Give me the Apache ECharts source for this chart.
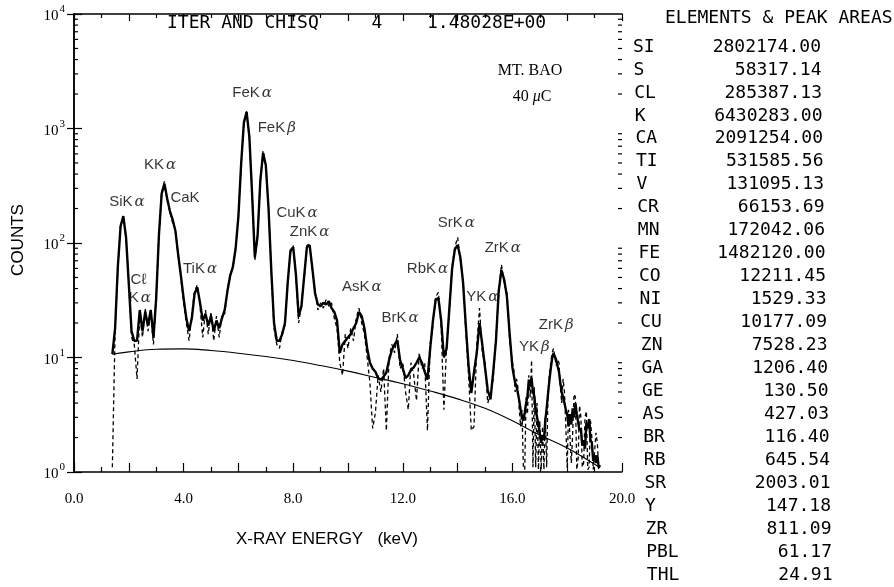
<!DOCTYPE html>
<html><head><meta charset="utf-8">
<script src="https://cdn.jsdelivr.net/npm/echarts/dist/echarts.min.js"></script>
<style>html,body{margin:0;padding:0;background:#fff}#c{width:894px;height:587px}</style>
</head><body><div id="c"></div>
<script>
// ---- data ----
const energy = [1.4,1.5,1.6,1.7,1.8,1.9,2.0,2.1,2.2,2.3,2.4,2.5,2.6,2.7,2.8,2.9,3.0,3.1,3.2,3.3,3.4,3.5,3.6,3.7,3.8,3.9,4.0,4.1,4.2,4.3,4.4,4.5,4.6,4.7,4.8,4.9,5.0,5.1,5.2,5.3,5.4,5.5,5.6,5.7,5.8,5.9,6.0,6.1,6.2,6.3,6.4,6.5,6.6,6.7,6.8,6.9,7.0,7.1,7.2,7.3,7.4,7.5,7.6,7.7,7.8,7.9,8.0,8.1,8.2,8.3,8.4,8.5,8.6,8.7,8.8,8.9,9.0,9.1,9.2,9.3,9.4,9.5,9.6,9.7,9.8,9.9,10.0,10.1,10.2,10.3,10.4,10.5,10.6,10.7,10.8,10.9,11.0,11.1,11.2,11.3,11.4,11.5,11.6,11.7,11.8,11.9,12.0,12.1,12.2,12.3,12.4,12.5,12.6,12.7,12.8,12.9,13.0,13.1,13.2,13.3,13.4,13.5,13.6,13.7,13.8,13.9,14.0,14.1,14.2,14.3,14.4,14.5,14.6,14.7,14.8,14.9,15.0,15.1,15.2,15.3,15.4,15.5,15.6,15.7,15.8,15.9,16.0,
 16.05,16.1,16.15,16.2,16.25,16.3,16.35,16.4,16.45,16.5,16.55,16.6,16.65,16.7,16.75,16.8,16.85,16.9,16.95,17.0,17.05,17.1,17.15,17.2,17.25,17.3,17.35,17.4,17.45,17.5,17.55,17.6,17.65,17.7,17.75,17.8,17.85,17.9,17.95,18.0,18.05,18.1,18.15,18.2,18.25,18.3,18.35,18.4,18.45,18.5,18.55,18.6,18.65,18.7,18.75,18.8,18.85,18.9,18.95,19.0,19.05,19.1,19.15,19.2];
const fitCounts = [
 10.7,18,62,140,172,112,44,17,14,14,
 26,17,25,19,26,15,33,118,270,330,
 245,190,160,128,80,52,33,22,17,22,
 36,41,30,21,24,19,23,17,21,18,
 22,26,38,52,62,90,170,490,1125,1390,
 850,268,75,115,350,610,480,200,58,20,
 14,14,16,20,45,86,92,53,23,28,
 51,92,96,60,36,29,28,30,29,31,
 27,25,21,11,13,14,15,16,18,20,
 25,23,18,12,9,8,7.5,6.6,6.4,6.8,
 7.4,9.5,11.6,13,14.2,9.5,8,6.6,7,7.8,
 8.2,9,10,9,7.5,6.4,12,21,32,33,
 21,10,12,27,60,88,96,75,45,19,
 8.5,4.9,7.5,11,20,13,8.2,5.2,4.3,7.5,
 14,38,58,48,34,16,8.2,
 7.0,6,5.6,4.9,4.2,3.5,3.0,2.8,3.3,4,
 4.6,6.4,5.6,6.6,5.0,4.6,3.5,3.6,2.6,2.6,
 1.8,2.1,1.9,2.8,3.6,4.8,6.3,8,9.8,10.9,
 10.2,9.5,8.4,7.5,6,5,4.5,4,3.5,3.2,
 2.5,3.2,2.6,3.6,3.0,4.0,3.2,3.3,2.3,2.4,
 1.7,1.9,1.6,2.7,2.4,2.9,1.9,1.8,1.25,1.4,
 1.2,1.4,1.1,1.15];
const dataCounts = [
 1.1,17,60,145,168,108,45,15,13,6.5,
 24,15,27,17,24,13,35,115,275,345,
 240,185,150,132,78,50,30,20,14,24,
 38,43,28,15,26,16,25,14,23,15,
 24,24,40,50,65,88,175,480,1140,1420,
 830,275,70,120,340,640,470,205,55,18,
 13,12,17,19,47,82,95,50,20,30,
 49,95,99,57,38,26,30,27,32,28,
 30,22,18,9,7,16,12,18,14,22,
 27,20,16,10,6,2.4,3.3,7,5,8,
 2.3,10,13,11,16,8,9,5,3.5,9,
 7,4.2,11,8,9,2.3,13,19,34,37,
 19,3.5,13,25,63,92,112,72,48,17,
 7,2.3,2.5,13,27,11,9,4,4.8,6.5,
 15,36,65,44,37,14,9,
 8,5,6.5,5.5,3.5,2.5,3.5,1.1,1.05,4.5,
 3.2,7,4.5,9.5,1.1,5.5,1.1,4,1.05,2.8,
 1.05,2.5,1.05,3,1.1,5,7,9,11,12,
 10,8.5,9.5,9,5.5,4,6.5,5,2.5,1.1,
 3.5,3.5,1.2,2.2,4.8,4.5,1.05,1.3,3.8,3,
 1.1,1.2,3.0,3.4,1.05,1.1,2.8,2,1.05,1.05,
 2.2,1.8,1.05,1.0];
const bgEnergy = [1.4,2,3,4,5,6,7,8,9,10,11,12,13,14,15,16,17,18,19,19.2];
const bgCounts = [10.7,11.2,11.8,11.9,11.5,10.9,10.2,9.4,8.5,7.6,6.7,5.9,5.1,4.35,3.6,2.8,2.1,1.62,1.17,1.1];

const peakLabelText  = ['SiK','KK','CaK','C\u2113','K','TiK','FeK','FeK','CuK','ZnK','AsK','BrK','RbK','SrK','YK','ZrK','YK','ZrK'];
const peakLabelGreek = ['\u03b1','\u03b1','','','\u03b1','\u03b1','\u03b1','\u03b2','\u03b1','\u03b1','\u03b1','\u03b1','\u03b1','\u03b1','\u03b1','\u03b1','\u03b2','\u03b2'];
const peakLabelX = [1.93,3.14,4.05,2.35,2.4,4.6,6.5,7.4,8.14,8.6,10.5,11.9,12.9,13.95,14.9,15.65,16.8,17.6];
const peakLabelY = [228,480,246,47.5,33,59,2030,1010,183,124,41,22,59,150,33.7,90,12.3,19.2];

const tableElements = ['SI','S','CL','K','CA','TI','V','CR','MN','FE','CO','NI','CU','ZN','GA','GE','AS','BR','RB','SR','Y','ZR','PBL','THL'];
const tablePeakAreas = ['2802174.00','58317.14','285387.13','6430283.00','2091254.00','531585.56','131095.13','66153.69','172042.06','1482120.00','12211.45','1529.33','10177.09','7528.23','1206.40','130.50','427.03','116.40','645.54','2003.01','147.18','811.09','61.17','24.91'];

const yMinorTicks = [2,3,4,5,6,7,8,9,20,30,40,50,60,70,80,90,200,300,400,500,600,700,800,900,2000,3000,4000,5000,6000,7000,8000,9000];

// ---- styling ----
const serif = "'Liberation Serif','DejaVu Serif',serif";
const sans = "'Liberation Sans','DejaVu Sans',sans-serif";
const mono = "'DejaVu Sans Mono','Liberation Mono',monospace";
const black = '#000';

const chart = echarts.init(document.getElementById('c'), null, {renderer:'canvas'});

const graphics = [];
function txt(x, y, text, opts) {
  graphics.push({type:'text', x:x, y:y, silent:true,
    style:Object.assign({text:text, fill:black, verticalAlign:'middle', align:'left'}, opts||{})});
}
const monoFont = {fontFamily:mono, fontSize:18};
txt(167, 23, 'ITER AND CHISQ', monoFont);
txt(377, 23, '4', Object.assign({align:'center'}, monoFont));
txt(427, 23, '1.48028E+00', monoFont);
txt(665, 18, 'ELEMENTS & PEAK AREAS', monoFont);
tableElements.forEach((el, i) => {
  const y = 47 + 22.95 * i;
  txt(633 + 0.6 * i, y, el, monoFont);
  txt(821 + 0.5 * i, y, tablePeakAreas[i], Object.assign({align:'right'}, monoFont));
});
txt(530, 71, 'MT. BAO', {fontFamily:serif, fontSize:16, align:'center'});
graphics.push({type:'text', x:532, y:97, silent:true, style:{
  text:'{a|40 }{m|\u03bc}{a|C}', align:'center', verticalAlign:'middle',
  rich:{a:{fontFamily:serif, fontSize:16, fill:black}, m:{fontFamily:serif, fontSize:16, fontStyle:'italic', fill:black}}}});
txt(327, 539, 'X-RAY ENERGY   (keV)', {fontFamily:sans, fontSize:17, align:'center'});
graphics.push({type:'text', x:18, y:240, rotation:Math.PI/2, silent:true,
  style:{text:'COUNTS', fontFamily:sans, fontSize:17, fill:black, align:'center', verticalAlign:'middle'}});

const axisLineStyle = {color:black, width:1.5};
const tickStyle = {color:black, width:1.2};

const option = {
  animation:false,
  backgroundColor:'#fff',
  grid:{left:74, right:272, top:14, bottom:115, containLabel:false, outerBoundsMode:'none'},
  xAxis:[
    {type:'value', min:0, max:20, interval:2, position:'bottom',
     axisLine:{show:true, lineStyle:axisLineStyle},
     axisTick:{show:true, inside:true, length:9, lineStyle:tickStyle},
     minorTick:{show:true, splitNumber:2, length:5, lineStyle:tickStyle},
     splitLine:{show:false}, minorSplitLine:{show:false},
     axisLabel:{show:true, margin:20, color:black, fontFamily:serif, fontSize:15,
       formatter:v => (Math.round(v) % 4 === 0 ? v.toFixed(1) : '')}},
    {type:'value', min:0, max:20, interval:2, position:'top',
     axisLine:{show:true, lineStyle:axisLineStyle},
     axisTick:{show:true, inside:true, length:7, lineStyle:tickStyle},
     minorTick:{show:true, splitNumber:2, length:4, lineStyle:tickStyle},
     splitLine:{show:false}, axisLabel:{show:false}}
  ],
  yAxis:[
    {type:'log', logBase:10, min:1, max:10000, position:'left',
     axisLine:{show:true, lineStyle:axisLineStyle},
     axisTick:{show:true, inside:true, length:8, lineStyle:tickStyle},
     splitLine:{show:false},
     axisLabel:{show:true, margin:9, color:black,
       formatter:v => '{b|10}{s|' + Math.round(Math.log10(v)) + '}',
       rich:{b:{fontFamily:serif, fontSize:15, color:black, verticalAlign:'bottom'},
             s:{fontFamily:serif, fontSize:11, color:black, verticalAlign:'bottom', padding:[0,0,9,1]}}}},
    {type:'log', logBase:10, min:1, max:10000, position:'right',
     axisLine:{show:true, lineStyle:axisLineStyle},
     axisTick:{show:true, inside:true, length:7, lineStyle:tickStyle},
     splitLine:{show:false}, axisLabel:{show:false}}
  ],
  graphic:graphics,
  series:[
    {type:'line', name:'background', data:bgEnergy.map((e,i)=>[e,bgCounts[i]]), smooth:0.4,
     symbol:'none', lineStyle:{color:black, width:1.1}, z:2, silent:true},
    {type:'line', name:'data', data:energy.map((e,i)=>[e,dataCounts[i]]),
     symbol:'none', lineStyle:{color:black, width:1.3, type:[4,3]}, z:3, silent:true},
    {type:'line', name:'fit', data:energy.map((e,i)=>[e,fitCounts[i]]),
     symbol:'none', lineStyle:{color:black, width:2.4}, z:4, silent:true},
    {type:'custom', name:'minorTicks', coordinateSystem:'cartesian2d', silent:true, clip:false,
     data:yMinorTicks.map(v=>[0,v]),
     renderItem:(params, api) => {
       const v = api.value(1);
       const p = api.coord([0, v]);
       const q = api.coord([20, v]);
       return {type:'group', children:[
         {type:'line', shape:{x1:p[0], y1:p[1], x2:p[0]+4, y2:p[1]}, style:{stroke:black, lineWidth:1.2}},
         {type:'line', shape:{x1:q[0], y1:q[1], x2:q[0]-4, y2:q[1]}, style:{stroke:black, lineWidth:1.2}}
       ]};
     }},
    {type:'scatter', name:'peakLabels', silent:true, symbolSize:1, itemStyle:{color:'rgba(0,0,0,0)'}, z:6,
     data:peakLabelX.map((x,i)=>({value:[x, peakLabelY[i]], name:peakLabelText[i]})),
     label:{show:true, position:'inside',
       formatter:p => '{t|' + peakLabelText[p.dataIndex] + '}' + (peakLabelGreek[p.dataIndex] ? '{g|' + peakLabelGreek[p.dataIndex] + '}' : ''),
       rich:{t:{fontFamily:sans, fontSize:15, color:black},
             g:{fontFamily:"'DejaVu Serif',serif", fontSize:15, fontStyle:'italic', color:black, padding:[0,0,0,2]}}}}
  ]
};
chart.setOption(option);
</script>
</body></html>
